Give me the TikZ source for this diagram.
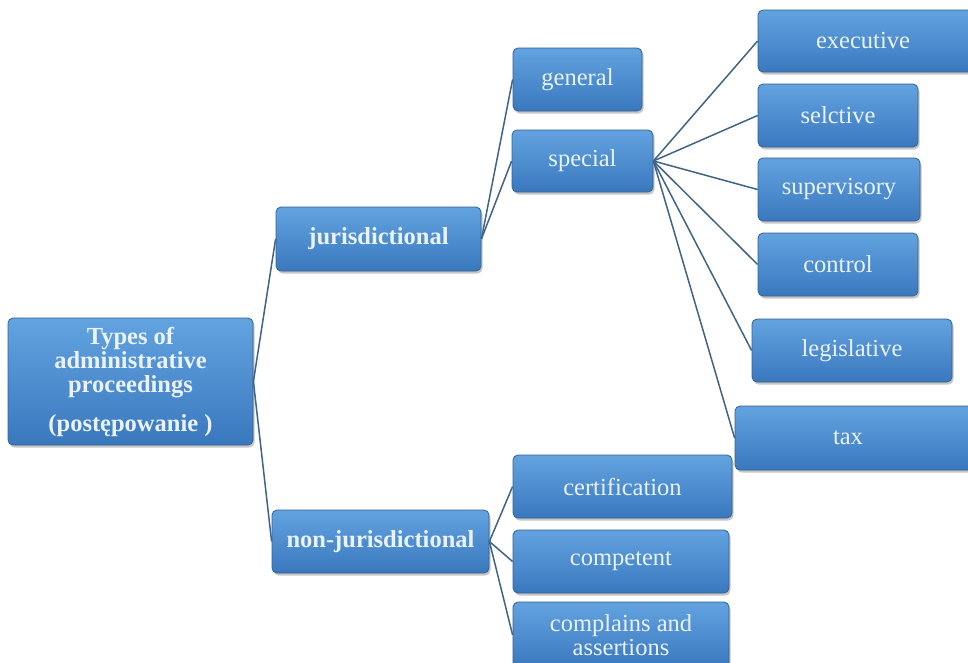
\documentclass[tikz,border=0pt]{standalone}
\usepackage{fontspec}
\setmainfont{Liberation Serif}
\usetikzlibrary{shadows}
\definecolor{boxtop}{HTML}{62A3E0}
\definecolor{boxbot}{HTML}{3A78BE}
\definecolor{boxline}{HTML}{36618F}
\definecolor{boxtext}{HTML}{EAF2FB}
\definecolor{conn}{HTML}{416384}
\begin{document}
\begin{tikzpicture}[x=1pt,y=-1pt,
  box/.style={draw=boxline, line width=0.8pt, rounded corners=5pt,
    top color=boxtop, bottom color=boxbot, text=boxtext,
    font=\fontsize{24.5}{24}\selectfont, align=center, inner sep=2pt,
    drop shadow={opacity=0.45, shadow xshift=1.5pt, shadow yshift=-2.5pt}},
  bbox/.style={box, font=\fontsize{24.5}{24}\selectfont\bfseries},
  conn/.style={draw=conn, line width=1.5pt}]
\useasboundingbox (0,0) rectangle (968,662);
\clip (0,0) rectangle (968,662);
\node[bbox, minimum width=245pt, minimum height=127pt] (root) at (130.5,381.5)
  {Types of\\administrative\\proceedings\\[15pt](postępowanie )};
\node[bbox, minimum width=205pt, minimum height=64pt] (jur) at (378.5,239) {jurisdictional};
\node[bbox, minimum width=217pt, minimum height=63pt] (non) at (380.5,541.5) {non-jurisdictional};
\node[box, minimum width=129pt, minimum height=63pt] (gen) at (577.5,79.5) {general};
\node[box, minimum width=141pt, minimum height=62pt] (spe) at (582.5,161) {special};
\node[box, minimum width=220pt, minimum height=62pt] (exe) at (868,41) {\hspace*{-10pt}executive};
\node[box, minimum width=160pt, minimum height=63pt] (sel) at (838,115.5) {selctive};
\node[box, minimum width=162pt, minimum height=63pt] (sup) at (839,189.5) {supervisory};
\node[box, minimum width=160pt, minimum height=63pt] (con) at (838,264.5) {control};
\node[box, minimum width=200pt, minimum height=63pt] (leg) at (852,350.5) {legislative};
\node[box, minimum width=240pt, minimum height=64pt] (tax) at (855,438) {\hspace*{-14pt}tax};
\node[box, minimum width=219pt, minimum height=63pt] (cer) at (622.5,486.5) {certification};
\node[box, minimum width=216pt, minimum height=63pt] (com) at (621,561.5) {competent};
\node[box, minimum width=216pt, minimum height=66pt] (cpl) at (621,635) {complains and\\assertions};
\draw[conn] (root.east) -- (jur.west);
\draw[conn] (root.east) -- (non.west);
\draw[conn] (jur.east) -- (gen.west);
\draw[conn] (jur.east) -- (spe.west);
\draw[conn] (spe.east) -- (exe.west);
\draw[conn] (spe.east) -- (sel.west);
\draw[conn] (spe.east) -- (sup.west);
\draw[conn] (spe.east) -- (con.west);
\draw[conn] (spe.east) -- (leg.west);
\draw[conn] (spe.east) -- (tax.west);
\draw[conn] (non.east) -- (cer.west);
\draw[conn] (non.east) -- (com.west);
\draw[conn] (non.east) -- (cpl.west);
\end{tikzpicture}
\end{document}
